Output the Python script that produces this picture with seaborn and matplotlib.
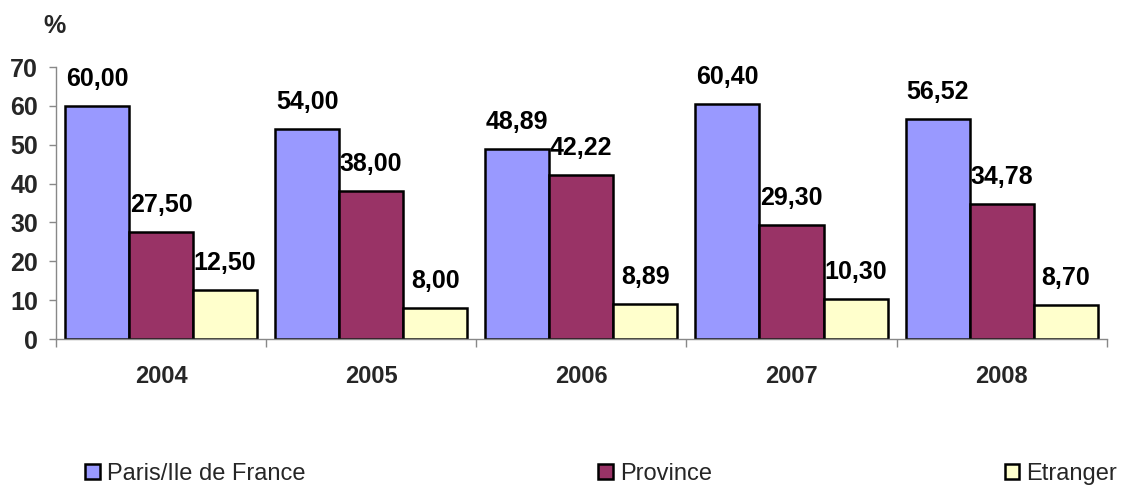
import matplotlib
matplotlib.use("Agg")
import matplotlib.pyplot as plt
import seaborn as sns
import pandas as pd

years = ["2004", "2005", "2006", "2007", "2008"]
series = ["Paris/Ile de France", "Province", "Etranger"]
paris = [60.00, 54.00, 48.89, 60.40, 56.52]
province = [27.50, 38.00, 42.22, 29.30, 34.78]
etranger = [12.50, 8.00, 8.89, 10.30, 8.70]
colors = ["#9999FF", "#993366", "#FFFFCC"]
yticks = [0, 10, 20, 30, 40, 50, 60, 70]

rows = []
for vals, name in zip([paris, province, etranger], series):
    for y, v in zip(years, vals):
        rows.append({"year": y, "serie": name, "value": v})
df = pd.DataFrame(rows)

sns.set_theme(style="white")
plt.rcParams["font.family"] = ["Liberation Sans", "DejaVu Sans"]

FS = 18
fig = plt.figure(figsize=(11.27, 4.88), dpi=100)
ax = fig.add_axes([0.0497, 0.3053, 0.9323, 0.5574])
sns.barplot(data=df, x="year", y="value", hue="serie", order=years,
            hue_order=series, palette=colors, width=0.914, ax=ax,
            edgecolor="black", linewidth=1.8, saturation=1, legend=True)

for cont in ax.containers:
    ax.bar_label(cont, labels=[f"{v:.2f}".replace(".", ",") for v in cont.datavalues],
                 padding=11, fontsize=FS, fontweight="bold", color="black")

ax.set_ylim(0, 70)
ax.set_xlim(-0.5, 4.5)
ax.set_yticks(yticks)
ax.set_yticklabels([str(t) for t in yticks], fontsize=FS, fontweight="bold")
ax.tick_params(axis="y", length=5, width=1, color="#888888", direction="out", left=True, pad=8)
ax.tick_params(axis="x", which="major", length=0, pad=19, labelsize=17)
for lbl in ax.get_xticklabels():
    lbl.set_fontweight("bold")
ax.set_xticks([-0.5, 0.5, 1.5, 2.5, 3.5, 4.5], minor=True)
ax.tick_params(axis="x", which="minor", length=6, width=1, color="#888888", direction="out", bottom=True)
ax.set_xlabel("")
ax.set_ylabel("")
for s in ["top", "right"]:
    ax.spines[s].set_visible(False)
for s in ["left", "bottom"]:
    ax.spines[s].set_color("#888888")
    ax.spines[s].set_linewidth(1)

fig.text(43 / 1127, 1 - 33 / 488, "%", fontsize=FS, fontweight="bold")

handles, labels = ax.get_legend_handles_labels()
ax.get_legend().remove()
fig.legend(handles, labels, loc="center left", bbox_to_anchor=(85 / 1127, 1 - 474 / 488),
           ncol=3, frameon=False, fontsize=17, borderpad=0, borderaxespad=0,
           handlelength=0.62, handleheight=0.62, handletextpad=0.3, columnspacing=12.4)

fig.savefig("out.png", dpi=100)
